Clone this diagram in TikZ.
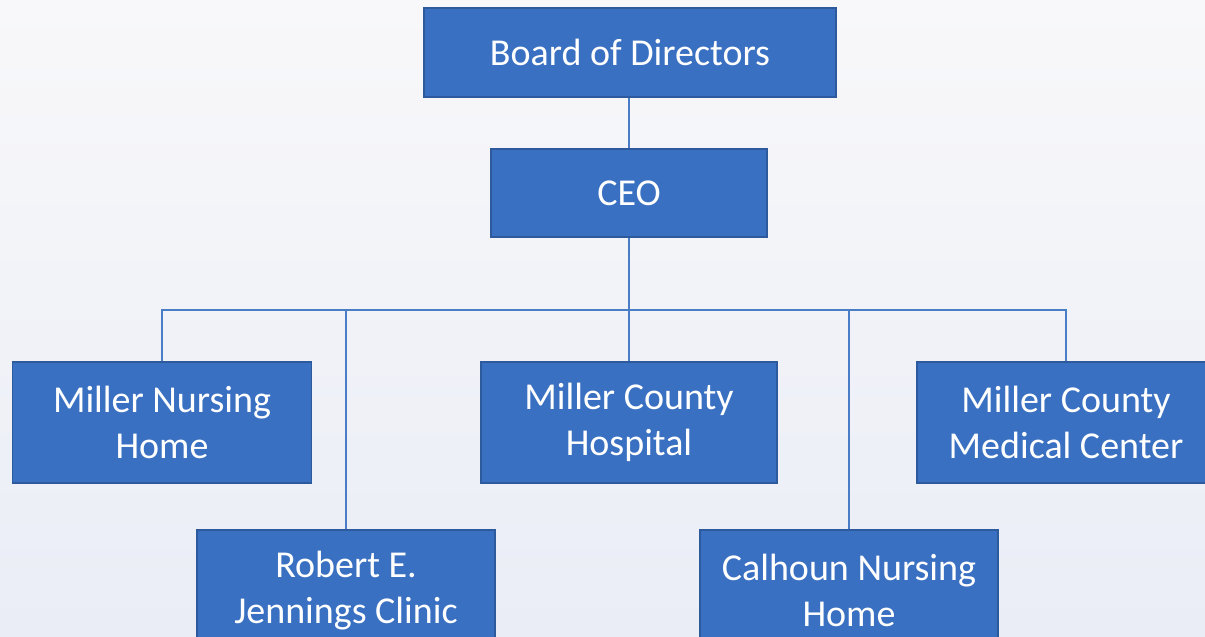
\documentclass[tikz,border=0pt]{standalone}
\usepackage{fontspec}
\setmainfont{Carlito}
\definecolor{boxfill}{HTML}{3A70C2}
\definecolor{boxline}{HTML}{2C5A9C}
\definecolor{conn}{HTML}{4A7DC6}
\definecolor{bgtop}{HTML}{F8F8FA}
\definecolor{bgbot}{HTML}{EAEDF6}
\tikzset{
  orgbox/.style={draw=boxline, line width=1.5pt, fill=boxfill, text=white, inner sep=0pt,
    align=center, font=\fontsize{38}{46}\selectfont},
  connector/.style={draw=conn, line width=1.5pt}
}
\begin{document}
\begin{tikzpicture}[x=1pt,y=-1pt]
\useasboundingbox (0,0) rectangle (1205,637);
\clip (0,0) rectangle (1205,637);
\shade[top color=bgtop, bottom color=bgbot] (0,0) rectangle (1205,637);
\coordinate (bus) at (0,310);
\node[orgbox, minimum width=412pt, minimum height=89pt] (board) at (630,52.5) {Board of Directors};
\node[orgbox, minimum width=276pt, minimum height=88pt] (ceo) at (629,193) {CEO};
\node[orgbox, minimum width=299pt, minimum height=121pt] (mnh) at (162,422.5) {Miller Nursing\\Home};
\node[orgbox, minimum width=296pt, minimum height=121pt] (mch) at (629,422.5) {Miller County\\Hospital};
\node[orgbox, minimum width=298pt, minimum height=121pt] (mcmc) at (1066,422.5) {Miller County\\Medical Center};
\node[orgbox, minimum width=298pt, minimum height=121pt] (rej) at (346,590.5) {Robert E.\\Jennings Clinic};
\node[orgbox, minimum width=298pt, minimum height=121pt] (cnh) at (849,590.5) {Calhoun Nursing\\Home};
\draw[connector] (ceo.north |- board.south) -- (ceo.north);
\draw[connector] (ceo.south) -- (mch.north);
\draw[connector] (mnh.north) -- (mnh.north |- bus) -- (mcmc.north |- bus) -- (mcmc.north);
\draw[connector] (rej.north) -- (rej.north |- bus);
\draw[connector] (cnh.north) -- (cnh.north |- bus);
\end{tikzpicture}
\end{document}
